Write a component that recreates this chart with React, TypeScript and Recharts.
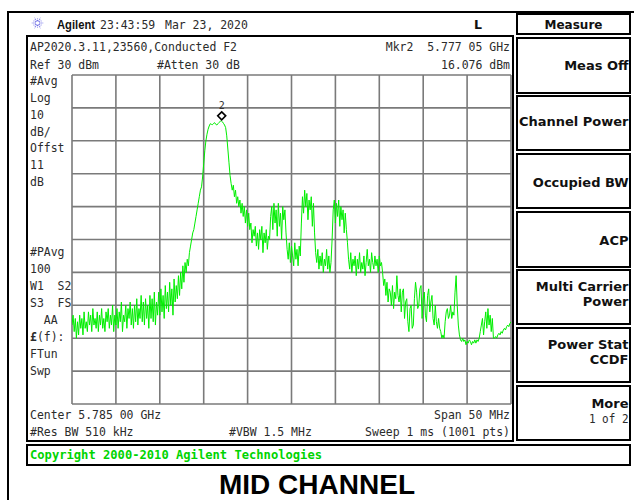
import React from 'react';
import { LineChart, Line, XAxis, YAxis, ReferenceLine, ReferenceDot } from 'recharts';

// Sweep: 5.760 GHz .. 5.810 GHz, values every 0.125 MHz (dBm)
const FREQ_START_MHZ = 5760;
const FREQ_STEP_MHZ = 0.125;

const traceLowerBand = [
  -46, -43, -48, -44, -50, -45, -49, -43,
  -47, -44, -49, -42, -47, -45, -48, -42,
  -46, -43, -48, -41, -46, -44, -47, -42,
  -48, -43, -46, -41, -47, -44, -48, -42,
  -45, -41, -47, -43, -46, -40, -48, -43,
  -46, -41, -47, -42, -45, -39, -48, -43,
  -45, -40, -47, -41, -44, -39, -46, -41,
  -47, -40, -45, -38, -46, -41, -44, -37,
  -45, -39, -46, -38, -44, -40, -47, -37,
  -44, -38, -45, -36, -46, -39, -43, -36,
  -43, -35, -42, -37, -44, -34, -41, -36,
  -42, -33, -40, -35, -43, -32, -39, -34,
  -38, -31, -37, -30, -35, -28, -33, -27,
  -30, -26, -28, -24, -22,
];

const traceCarrier = [
  -20, -18, -17, -15, -13, -11, -9, -7, -5, -4,
  -1, 3, 7, 10, 12, 13.5, 14.5, 15.2, 15.0, 14.9,
  15.3, 15.5, 15.0, 14.8, 15.2, 15.6, 15.9, 16.08, 15.8, 15.3,
  14.8, 14.0, 11.5, 7.5, 3.5, -0.5, -3, -5, -3.5, -7,
  -5, -9, -7, -10, -8, -12, -9, -13, -10, -15,
  -11, -16, -12, -17,
];

const traceUpperSpurs = [
  -15, -21, -17, -19, -16, -22, -18, -23, -17, -20, -16, -24, -18, -21, -17, -23, -19,
  -20, -13, -10, -17, -9, -15, -11, -19, -9, -16, -12, -20, -10, -14, -11,
  -18, -23, -26, -21, -27, -22, -25, -28, -21, -26, -23, -28, -22, -25,
  -15, -7, -12, -5, -10, -6, -14, -8, -11, -7, -16, -9,
  -18, -24, -27, -23, -29, -25, -28, -24, -30, -26, -28, -23, -29, -25, -30, -27,
  -20, -11, -8, -15, -9, -13, -8, -16, -10, -14, -11, -18, -12, -17,
  -21, -26, -29, -24, -30, -26, -28, -25, -31, -26, -29, -24, -30, -27, -29, -25,
  -31, -27, -23, -28, -26, -30, -24, -27, -29, -25, -28, -26, -30, -25, -28, -27,
];

const traceUpperTail = [
  -30, -34, -32, -37, -33, -39, -35, -36, -40, -34, -41, -36, -38, -31, -37, -39, -35,
  -42, -36, -35, -44, -39, -38, -45, -48, -41, -40, -47, -46, -38, -33, -36,
  -41, -40, -35, -34, -44, -38, -36, -43, -45, -37, -35, -42, -39, -37, -44, -46, -40, -45, -47,
  -44, -47, -48, -50, -49, -50,
  -45, -42, -41, -44, -43, -40, -44, -42, -43, -36, -31,
  -40, -46, -49, -50.5, -51, -50, -51, -50.5, -52, -51, -51.5, -50.5, -51, -52, -51, -51.5, -50.5, -51.5, -50.5, -51, -50,
  -48, -46, -44, -49, -45, -42, -47, -41, -46, -43, -48, -44, -50,
  -50, -49.5, -50, -49, -48.5, -49, -48, -48.5, -47.5, -47, -47.5, -46.5, -46, -46.5, -45.5, -45,
];

const freqGridTicks = [5760, 5765, 5770, 5775, 5780, 5785, 5790, 5795, 5800, 5805, 5810];
const levelGridTicks = [30, 20, 10, 0, -10, -20, -30, -40, -50, -60, -70];

const markerFreq = 5777.05;
const markerLevel = 16.076;

const traceValues = [...traceLowerBand, ...traceCarrier, ...traceUpperSpurs, ...traceUpperTail];
const data = traceValues.map((v, i) => ({ freq: FREQ_START_MHZ + i * FREQ_STEP_MHZ, level: v }));

const leftLabelsTop = ['#Avg', 'Log', '10', 'dB/', 'Offst', '11', 'dB'];
const leftLabelsBottom = ['#PAvg', '100', 'W1  S2', 'S3  FS', '  AA', '£(f):', 'FTun', 'Swp'];

const menuBoxes = [
  { top: 38, bottom: 93, lines: [['Meas Off', 65]] },
  { top: 96, bottom: 150, lines: [['Channel Power', 121.7]] },
  { top: 154, bottom: 208, lines: [['Occupied BW', 182.7]] },
  { top: 212, bottom: 267, lines: [['ACP', 240]] },
  { top: 270, bottom: 324, lines: [['Multi Carrier', 286.7], ['Power', 301.7]] },
  { top: 328, bottom: 382, lines: [['Power Stat', 344.3], ['CCDF', 359.3]] },
  { top: 386, bottom: 440, lines: [['More', 403.3]] },
];

const MONO = "'DejaVu Sans Mono', 'Liberation Mono', monospace";
const SANS_BOLD = "'DejaVu Sans', sans-serif";

function M({ x, y, s, a = 'start', w = 6.9, fill = '#2b2b2b', bold = false, size = 12.5 }: any) {
  return (
    <text
      x={x}
      y={y + 4.5}
      textAnchor={a}
      fontFamily={MONO}
      fontSize={size}
      fontWeight={bold ? 'bold' : 'normal'}
      fill={fill}
      textLength={s.length * w}
      lengthAdjust="spacingAndGlyphs"
      style={{ whiteSpace: 'pre' }}
    >
      {s}
    </text>
  );
}

function Logo() {
  const cx = 37.5;
  const cy = 23;
  const rays = [];
  for (let k = 0; k < 12; k++) {
    const ang = (k * Math.PI) / 6;
    const r1 = 1.8;
    const r2 = k % 2 === 0 ? 6 : 4.5;
    rays.push(
      <line
        key={k}
        x1={cx + r1 * Math.cos(ang)}
        y1={cy + r1 * Math.sin(ang)}
        x2={cx + r2 * Math.cos(ang)}
        y2={cy + r2 * Math.sin(ang)}
        stroke="#6f6fe6"
        strokeWidth={1.1}
        strokeDasharray="1.2 0.8"
      />
    );
  }
  return <g>{rays}</g>;
}

function Background() {
  const lineH = 16.8;
  return (
    <svg width={634} height={500} style={{ position: 'absolute', left: 0, top: 0 }}>
      <rect x={0} y={0} width={634} height={500} fill="#ffffff" />
      {/* outer frame */}
      <line x1={7} y1={12} x2={634} y2={12} stroke="#000" strokeWidth={2} />
      <line x1={8} y1={11} x2={8} y2={500} stroke="#000" strokeWidth={2} />

      {/* header */}
      <Logo />
      <text
        x={57}
        y={28.5}
        fontFamily="'Liberation Sans', Arial, sans-serif"
        fontWeight="bold"
        fontSize={12}
        fill="#111"
        textLength={38}
        lengthAdjust="spacingAndGlyphs"
      >
        Agilent
      </text>
      <M x={100} y={24} s="23:43:59" />
      <M x={165} y={24} s="Mar 23, 2020" />
      <text x={478} y={29} textAnchor="middle" fontFamily={SANS_BOLD} fontWeight="bold" fontSize={12.5} fill="#111">
        L
      </text>

      {/* graph panel */}
      <rect x={27} y={36} width={486} height={405} fill="none" stroke="#000" strokeWidth={2} />
      <M x={30} y={46.7} s="AP2020.3.11,23560,Conducted F2" />
      <M x={30} y={64} s="Ref 30 dBm" />
      <M x={157} y={64} s="#Atten 30 dB" />
      <M x={510} y={46.7} s="Mkr2  5.777 05 GHz" a="end" />
      <M x={510} y={64} s="16.076 dBm" a="end" />

      {leftLabelsTop.map((s, i) => (
        <M key={'t' + i} x={30} y={80.7 + i * lineH} s={s} />
      ))}
      {leftLabelsBottom.map((s, i) =>
        s === '£(f):' ? (
          <text
            key={'b' + i}
            x={30}
            y={251.7 + i * 17 + 4.5}
            fontFamily={MONO}
            fontSize={12.5}
            fill="#2b2b2b"
            textLength={5 * 6.9}
            lengthAdjust="spacingAndGlyphs"
          >
            <tspan fontWeight="bold">£</tspan>(f):
          </text>
        ) : (
          <M key={'b' + i} x={30} y={251.7 + i * 17} s={s} />
        )
      )}

      <M x={30} y={414} s="Center 5.785 00 GHz" />
      <M x={510} y={414} s="Span 50 MHz" a="end" />
      <M x={30} y={431} s="#Res BW 510 kHz" />
      <M x={229} y={431} s="#VBW 1.5 MHz" />
      <M x={510} y={431} s="Sweep 1 ms (1001 pts)" a="end" />

      {/* menu */}
      <rect x={517} y={14} width={113} height={20} fill="none" stroke="#000" strokeWidth={2} />
      <text x={573.5} y={28.5} textAnchor="middle" fontFamily={SANS_BOLD} fontWeight="bold" fontSize={12} fill="#111">
        Measure
      </text>
      {menuBoxes.map((b, i) => (
        <g key={i}>
          <rect x={517} y={b.top} width={113} height={b.bottom - b.top} fill="none" stroke="#000" strokeWidth={2} />
          {b.lines.map(([label, cy]: any, j: number) => (
            <text
              key={j}
              x={628.5}
              y={cy + 4.7}
              textAnchor="end"
              fontFamily={SANS_BOLD}
              fontWeight="bold"
              fontSize={13}
              fill="#111"
            >
              {label}
            </text>
          ))}
        </g>
      ))}
      <M x={628.5} y={418.3} s="1 of 2" a="end" w={6.6} />

      {/* copyright */}
      <rect x={27} y={445} width={603} height={20} fill="none" stroke="#000" strokeWidth={2} />
      <M x={30} y={454.5} s="Copyright 2000-2010 Agilent Technologies" w={7.3} bold fill="#00d400" />

      {/* caption */}
      <text x={317} y={494} textAnchor="middle" fontFamily="'Liberation Sans', Arial, sans-serif" fontWeight="bold" fontSize={28} fill="#000">
        MID CHANNEL
      </text>
    </svg>
  );
}

function MarkerShape(props: any) {
  const { cx, cy } = props;
  if (cx == null || cy == null) return null;
  const dy = cy - 5;
  const h = 4;
  return (
    <g>
      <polygon
        points={`${cx},${dy - h} ${cx + h},${dy} ${cx},${dy + h} ${cx - h},${dy}`}
        fill="#fff"
        stroke="#000"
        strokeWidth={1.6}
      />
      <text x={cx} y={dy - 7} textAnchor="middle" fontFamily={MONO} fontSize={10} fill="#333">
        2
      </text>
    </g>
  );
}

export default function App() {
  return (
    <div style={{ position: 'absolute', left: 0, top: 0, width: 634, height: 500, background: '#fff' }}>
      <Background />
      <div style={{ position: 'absolute', left: 0, top: 0 }}>
        <LineChart width={634} height={500} data={data} margin={{ top: 75, right: 123, bottom: 96, left: 72 }}>
          <XAxis dataKey="freq" type="number" domain={[5760, 5810]} hide allowDataOverflow />
          <YAxis type="number" domain={[-70, 30]} hide allowDataOverflow />
          {freqGridTicks.map((t) => (
            <ReferenceLine key={'x' + t} x={t} stroke="#7a7a7a" strokeWidth={1.6} ifOverflow="visible" />
          ))}
          {levelGridTicks.map((t) => (
            <ReferenceLine key={'y' + t} y={t} stroke="#7a7a7a" strokeWidth={1.6} ifOverflow="visible" />
          ))}
          <Line
            type="linear"
            dataKey="level"
            stroke="#00ee00"
            strokeWidth={1}
            dot={false}
            activeDot={false}
            isAnimationActive={false}
          />
          <ReferenceDot x={markerFreq} y={markerLevel} r={4} shape={MarkerShape} ifOverflow="visible" />
        </LineChart>
      </div>
    </div>
  );
}
